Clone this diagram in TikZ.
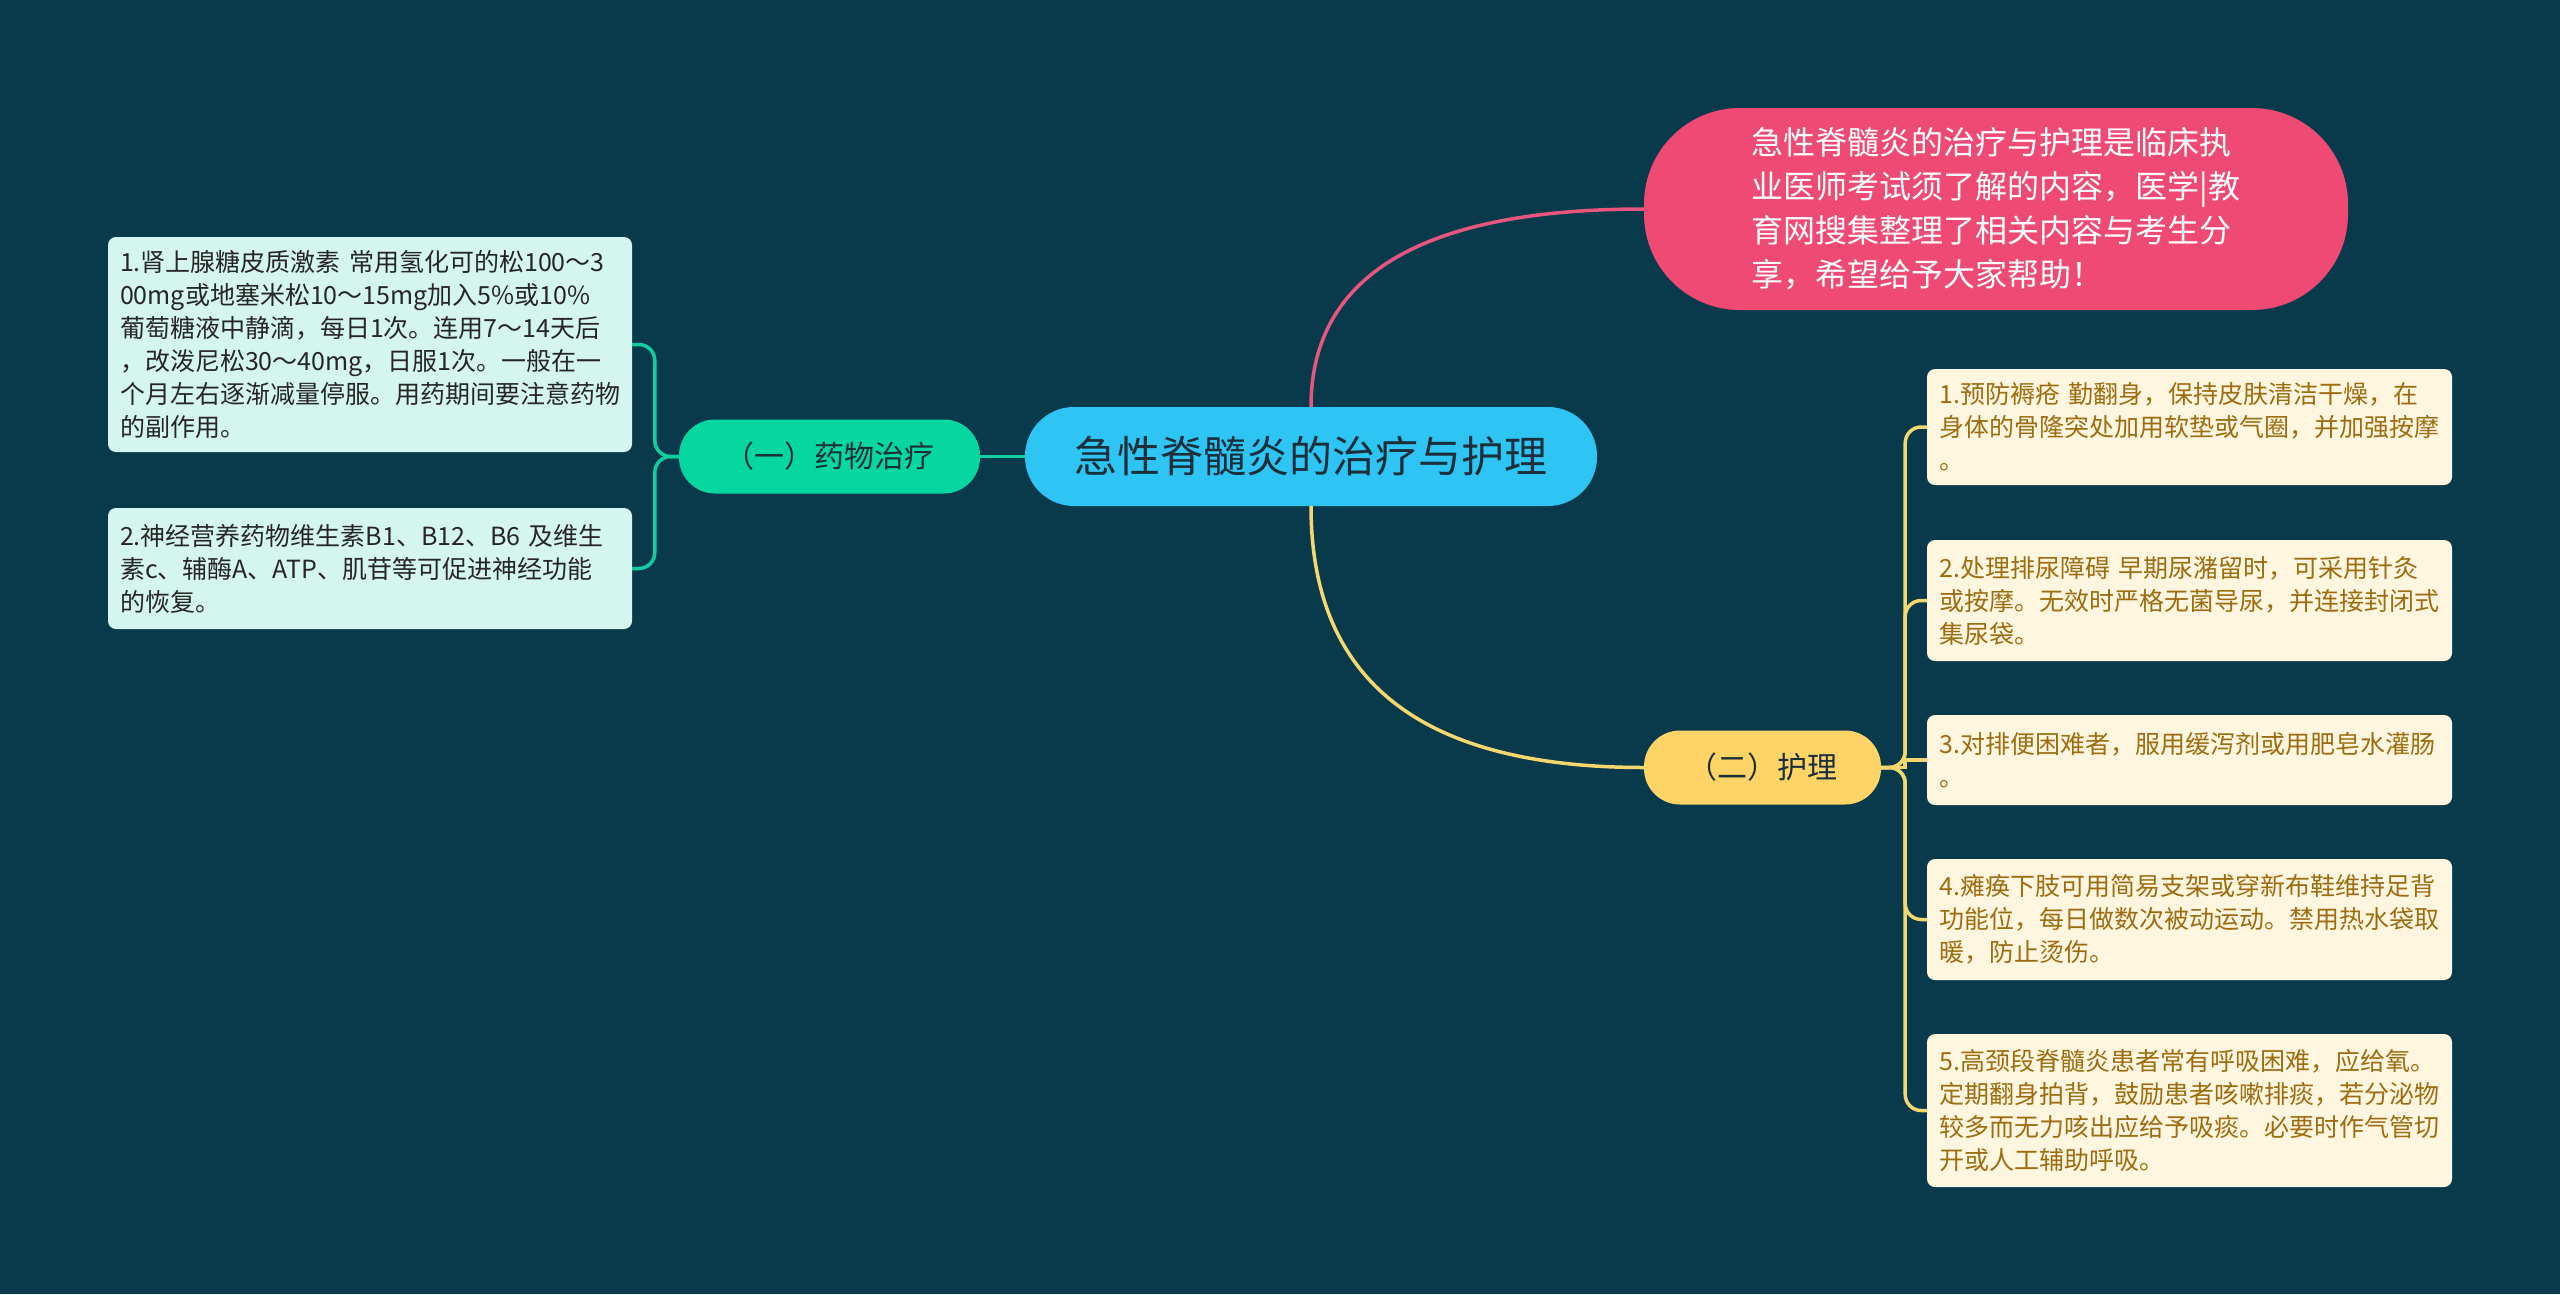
\documentclass[tikz,border=0pt]{standalone}
\usepackage{fontspec}
\setmainfont{Noto Sans CJK SC}
\usepackage{tikz}
\usetikzlibrary{positioning}

\definecolor{bgteal}{HTML}{083A4C}
\definecolor{rootblue}{HTML}{2EC5F4}
\definecolor{introred}{HTML}{EF4A74}
\definecolor{drugmint}{HTML}{06D6A0}
\definecolor{carebeige}{HTML}{FFD466}
\definecolor{leafmint}{HTML}{D5F6EF}
\definecolor{leafcream}{HTML}{FFF6E0}
\definecolor{caretext}{HTML}{9E6C10}
\definecolor{inkdark}{HTML}{1B2F3A}
\definecolor{pinkwire}{HTML}{E8557E}
\definecolor{yellowwire}{HTML}{F6D66E}
\definecolor{greenwire}{HTML}{12CDA0}

\begin{document}
\begin{tikzpicture}[x=1pt, y=-1pt,
  root/.style={rectangle, rounded corners=49pt, fill=rootblue,
               minimum width=572pt, minimum height=99pt, text=inkdark,
               font=\fontsize{43}{50}\selectfont},
  intro/.style={rectangle, rounded corners=96pt, fill=introred,
                minimum width=704pt, minimum height=202pt, text=white,
                align=left, font=\fontsize{32}{44}\selectfont},
  branch/.style={rectangle, rounded corners=36pt, minimum height=74pt,
                 text=inkdark, font=\fontsize{30}{36}\selectfont},
  drugleaf/.style={rectangle, rounded corners=8pt, fill=leafmint,
                   minimum width=524pt, inner xsep=12pt, text width=500pt,
                   align=left, text=black!85, font=\fontsize{25}{33}\selectfont},
  careleaf/.style={drugleaf, fill=leafcream, minimum width=525pt, text=caretext},
  pinkline/.style={draw=pinkwire, line width=3.5pt},
  yellowline/.style={draw=yellowwire, line width=3.5pt},
  greenline/.style={draw=greenwire, line width=3.5pt},
]
\fill[bgteal] (0,0) rectangle (2560,1294);
\useasboundingbox (0,0) rectangle (2560,1294);

% main topic and its two branches
\node[root] (root) at (1311,456.5) {急性脊髓炎的治疗与护理};
\node[intro] (intro) at (1996,209)
  {急性脊髓炎的治疗与护理是临床执\\
   业医师考试须了解的内容，医学|教\\
   育网搜集整理了相关内容与考生分\\
   享，希望给予大家帮助！};
\node[branch, fill=drugmint, minimum width=301pt] (drug) at (829.5,456.5)
  {（一）药物治疗};
\node[branch, fill=carebeige, minimum width=237pt] (care) at (1762.5,767.5)
  {（二）护理};

% drug leaves
\node[drugleaf, minimum height=215pt] (drug1) at (370,344.5)
  {1.肾上腺糖皮质激素 常用氢化可的松100～3\\
   00mg或地塞米松10～15mg加入5\%或10\%\\
   葡萄糖液中静滴，每日1次。连用7～14天后\\
   ，改泼尼松30～40mg，日服1次。一般在一\\
   个月左右逐渐减量停服。用药期间要注意药物\\
   的副作用。};
\node[drugleaf, minimum height=121pt] (drug2) at (370,568.5)
  {2.神经营养药物维生素B1、B12、B6 及维生\\
   素c、辅酶A、ATP、肌苷等可促进神经功能\\
   的恢复。};

% care leaves
\node[careleaf, minimum height=116pt] (care1) at (2189.5,427)
  {1.预防褥疮 勤翻身，保持皮肤清洁干燥，在\\
   身体的骨隆突处加用软垫或气圈，并加强按摩\\
   。};
\node[careleaf, minimum height=121pt] (care2) at (2189.5,600.5)
  {2.处理排尿障碍 早期尿潴留时，可采用针灸\\
   或按摩。无效时严格无菌导尿，并连接封闭式\\
   集尿袋。};
\node[careleaf, minimum height=90pt] (care3) at (2189.5,760)
  {3.对排便困难者，服用缓泻剂或用肥皂水灌肠\\
   。};
\node[careleaf, minimum height=121pt] (care4) at (2189.5,919.5)
  {4.瘫痪下肢可用简易支架或穿新布鞋维持足背\\
   功能位，每日做数次被动运动。禁用热水袋取\\
   暖，防止烫伤。};
\node[careleaf, minimum height=153pt] (care5) at (2189.5,1110.5)
  {5.高颈段脊髓炎患者常有呼吸困难，应给氧。\\
   定期翻身拍背，鼓励患者咳嗽排痰，若分泌物\\
   较多而无力咳出应给予吸痰。必要时作气管切\\
   开或人工辅助呼吸。};

% connectors
\draw[pinkline] (root.north) .. controls +(0,-147) and +(-194,0) .. (intro.west);
\draw[yellowline] (root.south) .. controls +(0,174) and +(-224,0) .. (care.west);
\draw[greenline] (root.west) -- (drug.east);

\draw[greenline, rounded corners=16pt] (drug.west) -- ++(-24,0) |- (drug1.east);
\draw[greenline, rounded corners=16pt] (drug.west) -- ++(-24,0) |- (drug2.east);

\draw[yellowline, rounded corners=16pt] (care.east) -- ++(24,0) |- (care1.west);
\draw[yellowline, rounded corners=16pt] (care.east) -- ++(24,0) |- (care2.west);
\draw[yellowline] (care.east) -- ++(24,0) |- (care3.west);
\draw[yellowline, rounded corners=16pt] (care.east) -- ++(24,0) |- (care4.west);
\draw[yellowline, rounded corners=16pt] (care.east) -- ++(24,0) |- (care5.west);
\end{tikzpicture}
\end{document}
